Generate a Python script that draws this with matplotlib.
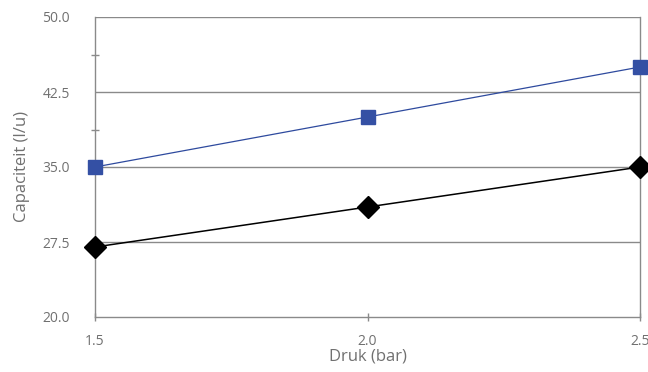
import matplotlib
matplotlib.use("Agg")
import matplotlib.pyplot as plt

pressure = [1.5, 2.0, 2.5]
capacity_blue = [35.0, 40.0, 45.0]
capacity_black = [27.0, 31.0, 35.0]
xticks = [1.5, 2.0, 2.5]
yticks = [20.0, 27.5, 35.0, 42.5, 50.0]
yminor = [38.75, 46.25]

plt.rcParams['font.family'] = ['Open Sans', 'DejaVu Sans']
fig = plt.figure(figsize=(6.48, 3.72), dpi=100)
ax = fig.add_axes([95/648, 1-317/372, (640-95)/648, 300/372])

grey = '#8a8a8a'
txt = '#707070'
ax.set_xlim(1.5, 2.5)
ax.set_ylim(20, 50)
for y in yticks[1:]:
    ax.axhline(y, color=grey, lw=1.0, zorder=1)

ax.plot(pressure, capacity_blue, color='#2E4A9E', lw=0.9, marker='s', ms=10.5,
        markerfacecolor='#3450A4', markeredgecolor='#3450A4', zorder=3, clip_on=False)
ax.plot(pressure, capacity_black, color='black', lw=1.1, marker='D', ms=11.5,
        markerfacecolor='black', markeredgecolor='black', zorder=3, clip_on=False)

ax.set_xticks(xticks)
ax.set_xticklabels([f"{v:.1f}" for v in xticks])
ax.set_yticks(yticks)
ax.set_yticklabels([f"{v:.1f}" for v in yticks])
ax.set_yticks(yminor, minor=True)
for s in ['left', 'bottom', 'right']:
    ax.spines[s].set_color(grey)
    ax.spines[s].set_linewidth(1.0)
ax.spines['top'].set_visible(False)
ax.tick_params(axis='both', which='both', colors=grey, labelcolor=txt, labelsize=10,
               direction='inout', length=6, width=1)
ax.tick_params(axis='y', which='major', length=0, pad=18)
ax.tick_params(axis='x', which='major', pad=9)
ax.set_xlabel('Druk (bar)', color=txt, fontsize=12, labelpad=0)
ax.set_ylabel('Capaciteit (l/u)', color=txt, fontsize=12, labelpad=9)

fig.savefig('out.png', dpi=100)
